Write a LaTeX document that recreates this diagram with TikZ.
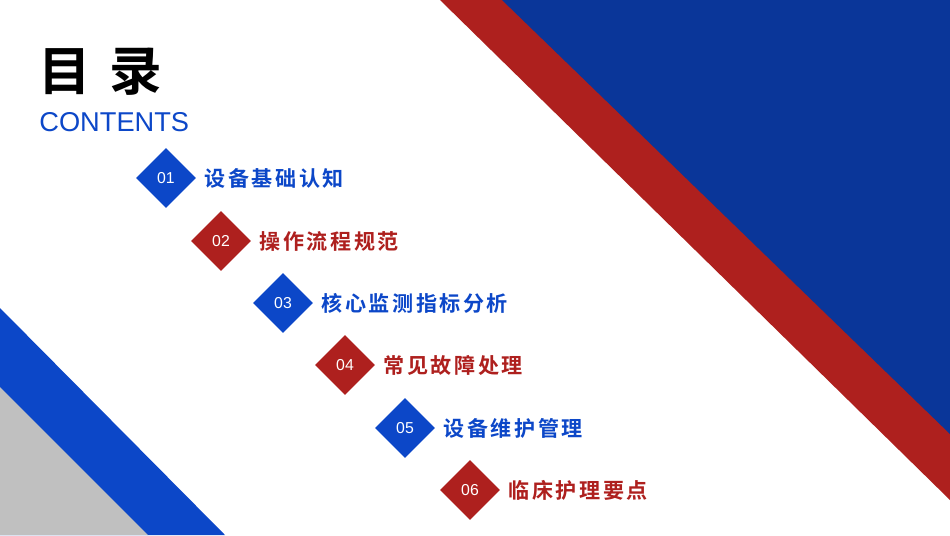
\documentclass[tikz,border=0pt]{standalone}
\usepackage{fontspec}
\setmainfont{Liberation Sans}
\newfontfamily\cjk{Noto Sans CJK SC Bold}
\usetikzlibrary{shapes.geometric,positioning}
\definecolor{navy}{HTML}{0A3699}
\definecolor{royal}{HTML}{0C47C8}
\definecolor{brick}{HTML}{AE201E}
\definecolor{ash}{HTML}{C0C0C0}
\begin{document}
\begin{tikzpicture}[x=0.02cm,y=-0.02cm,
        num/.style={diamond, minimum size=1.2cm, inner sep=0pt, text=white, font=\small},
        item/.style={right, inner sep=0pt, font=\cjk\fontsize{12}{12}\selectfont, text=#1}
    ]
        \useasboundingbox (0,0) rectangle (950,535);
        % Background bands
        \fill[brick] (440,0) -- (950,0) -- (950,500) -- cycle;
        \fill[navy] (502,0) -- (950,0) -- (950,434) -- cycle;
        \fill[royal] (0,308) -- (225,535) -- (0,535) -- cycle;
        \fill[ash] (0,387) -- (148,535) -- (0,535) -- cycle;

        % Title
        \node[anchor=west, inner sep=0pt, font=\cjk\fontsize{30}{30}\selectfont] (title) at (38,72) {目\hspace{0.35em}录};
        \node[anchor=west, inner sep=0pt, text=royal, font=\fontsize{15.5}{16}\selectfont] (sub) at (39,122) {CONTENTS};

        % Items
        \foreach \n/\x/\y/\c/\t in {01/166/178/royal/设备基础认知,
                                    02/221/241/brick/操作流程规范,
                                    03/283/303/royal/核心监测指标分析,
                                    04/345/365/brick/常见故障处理,
                                    05/405/428/royal/设备维护管理,
                                    06/470/490/brick/临床护理要点} {
            \node[num, fill=\c] (d\n) at (\x,\y) {\n};
            \node[item=\c, right=0.16cm of d\n] (t\n) {\addfontfeature{LetterSpace=12}\t};
        }
    \end{tikzpicture}
\end{document}
